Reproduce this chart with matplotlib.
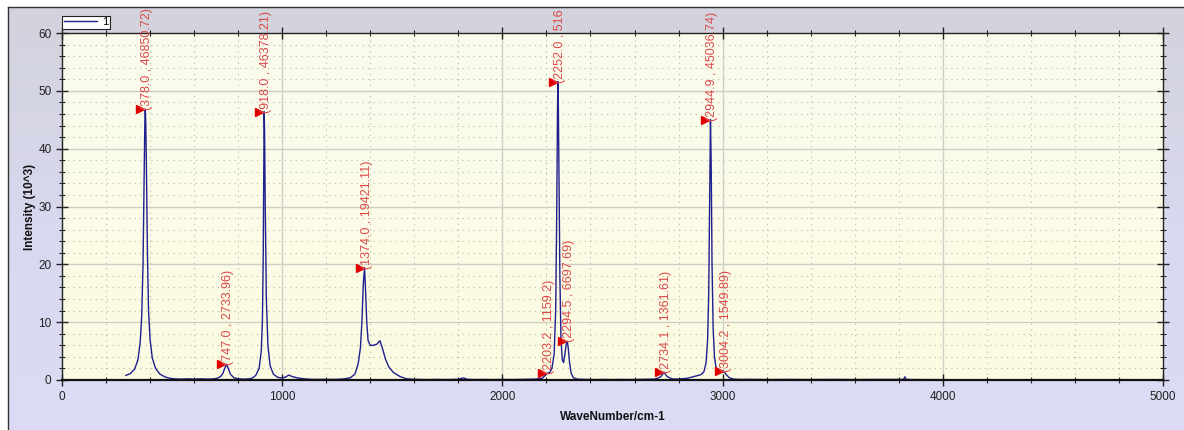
import numpy as np
import matplotlib
matplotlib.use("Agg")
import matplotlib.pyplot as plt
from matplotlib.transforms import offset_copy
from matplotlib.colors import LinearSegmentedColormap

plt.rcParams['font.family'] = ['Liberation Sans', 'DejaVu Sans']

# ---- spectrum data (WaveNumber cm-1, Intensity x10^3) ----
wavenumber = [
    290, 310, 330, 345, 355, 362, 368, 373, 376, 378, 380, 383, 388, 393, 400, 410, 425, 445, 470,
    490, 510, 540, 570, 600, 630, 660, 690,
    705, 720, 730, 738, 747, 755, 765, 780,
    800, 830, 850, 865, 880, 895, 905, 910, 914, 917, 918, 920, 923, 928, 935, 945, 960, 980,
    1000, 1015, 1030, 1045, 1070, 1100, 1130, 1160, 1190, 1220, 1250, 1280,
    1310, 1330, 1345, 1355, 1362, 1368, 1374, 1379, 1384, 1390, 1400, 1415, 1430, 1444, 1455,
    1470, 1485, 1505, 1535, 1565,
    1600, 1650, 1700, 1750, 1800, 1815, 1825, 1840, 1880, 1920, 1960, 2000, 2040, 2080, 2120,
    2150, 2180, 2195, 2203.2, 2215, 2225, 2235, 2242, 2247, 2250, 2252, 2254, 2257, 2261, 2266,
    2272, 2278, 2284, 2290, 2294.5, 2299, 2305, 2312, 2322,
    2340, 2380, 2420, 2460, 2500, 2540, 2580, 2620, 2660, 2690,
    2705, 2720, 2734.1, 2748, 2770, 2790, 2810,
    2840, 2860, 2880, 2900, 2915, 2925, 2932, 2937, 2941, 2944.9, 2948, 2952, 2957, 2963, 2970,
    2980, 2992, 3004.2, 3015, 3030, 3050,
    3080, 3120, 3200, 3300, 3400, 3500, 3600, 3700, 3800, 3822, 3828, 3834, 3860, 3950, 4050, 4105,
]
intensity = [
    0.8, 1.1, 1.9, 3.5, 6.5, 11.0, 20.0, 35.0, 44.0, 46.85, 45.0, 38.0, 22.0, 12.0, 7.0, 3.8, 2.0, 1.0, 0.5,
    0.3, 0.2, 0.15, 0.2, 0.15, 0.2, 0.15, 0.2,
    0.3, 0.6, 1.1, 1.9, 2.73, 2.0, 1.0, 0.4,
    0.2, 0.15, 0.2, 0.35, 0.8, 2.0, 5.0, 10.0, 22.0, 42.0, 46.38, 43.0, 30.0, 14.0, 6.0, 2.5, 1.0, 0.45,
    0.35, 0.5, 0.85, 0.6, 0.35, 0.2, 0.12, 0.1, 0.12, 0.1, 0.12, 0.18,
    0.4, 1.0, 2.8, 5.5, 10.0, 16.5, 19.42, 15.0, 10.0, 6.8, 6.0, 6.0, 6.2, 6.8, 5.5,
    3.5, 2.2, 1.3, 0.6, 0.2,
    0.12, 0.08, 0.1, 0.08, 0.12, 0.3, 0.35, 0.12, 0.08, 0.1, 0.08, 0.1, 0.08, 0.1, 0.12,
    0.15, 0.3, 0.8, 1.16, 1.3, 2.0, 4.5, 12.0, 30.0, 46.0, 51.6, 48.0, 35.0, 18.0, 7.0,
    3.5, 3.0, 4.5, 6.3, 6.7, 5.5, 3.0, 1.2, 0.4,
    0.15, 0.1, 0.08, 0.1, 0.08, 0.1, 0.08, 0.1, 0.12, 0.15,
    0.3, 0.6, 1.36, 0.6, 0.2, 0.15, 0.2,
    0.3, 0.5, 0.7, 0.9, 1.4, 3.0, 7.0, 15.0, 30.0, 45.04, 38.0, 20.0, 9.0, 4.0, 2.2,
    1.4, 1.3, 1.55, 1.0, 0.4, 0.15,
    0.1, 0.12, 0.08, 0.1, 0.08, 0.1, 0.08, 0.1, 0.1, 0.12, 0.55, 0.1, 0.08, 0.06, 0.05, 0.05,
]

peak_x = [378.0, 747.0, 918.0, 1374.0, 2203.2, 2252.0, 2294.5, 2734.1, 2944.9, 3004.2]
peak_y = [46.85, 2.734, 46.378, 19.421, 1.159, 51.6, 6.698, 1.362, 45.037, 1.550]
peak_labels = ["(378.0 , 46850.72)", "(747.0 , 2733.96)", "(918.0 , 46378.21)",
               "(1374.0 , 19421.11)", "(2203.2 , 1159.2)", "(2252.0 , 516",
               "(2294.5 , 6697.69)", "(2734.1 , 1361.61)", "(2944.9 , 45036.74)",
               "(3004.2 , 1549.89)"]

x_ticks = [0, 1000, 2000, 3000, 4000, 5000]
y_ticks = [0, 10, 20, 30, 40, 50, 60]

W, H = 1184, 430
fig = plt.figure(figsize=(W / 100, H / 100), dpi=100)
fig.patch.set_facecolor('white')

# background panel with gradient
bg = fig.add_axes([8 / W, 0, 1 - 8 / W, 1 - 7 / H], zorder=-10)
cmap_bg = LinearSegmentedColormap.from_list('bg', ['#dcdcf6', '#d8d8ee', '#d2d3dc'])
bg.imshow(np.linspace(0, 1, 256).reshape(-1, 1), aspect='auto', cmap=cmap_bg,
          origin='lower', extent=(0, 1, 0, 1))
bg.set_xlim(0, 1); bg.set_ylim(0, 1)
bg.set_xticks([]); bg.set_yticks([])
for s in ['right', 'bottom']:
    bg.spines[s].set_visible(False)
for s in ['left', 'top']:
    bg.spines[s].set_color('#333333')
    bg.spines[s].set_linewidth(1.0)

left, right, top, bottom = 62, 1163, 33, 380
ax = fig.add_axes([left / W, 1 - bottom / H, (right - left) / W, (bottom - top) / H])
ax.set_xlim(0, 5000)
ax.set_ylim(0, 60)

cmap_ax = LinearSegmentedColormap.from_list('axbg', ['#fbfbe2', '#fcfcee'])
ax.imshow(np.linspace(0, 1, 256).reshape(-1, 1), aspect='auto', cmap=cmap_ax,
          origin='lower', extent=(0, 5000, 0, 60), zorder=0)

# grids
for xv in range(200, 5000, 200):
    if xv % 1000:
        ax.axvline(xv, color='#b8b8a8', lw=0.8, ls=(0, (1, 4)), zorder=1)
for yv in range(2, 60, 2):
    if yv % 10:
        ax.axhline(yv, color='#b8b8a8', lw=0.8, ls=(0, (1, 4)), zorder=1)
for xv in x_ticks[1:-1]:
    ax.axvline(xv, color='#cfcfc8', lw=1.0, zorder=1)
for yv in y_ticks[1:-1]:
    ax.axhline(yv, color='#cfcfc8', lw=1.0, zorder=1)

ax.plot(wavenumber, intensity, color='#1f1f8f', lw=1.0, zorder=3, label='1')

# peak markers and labels
mtrans = offset_copy(ax.transData, fig=fig, x=-5, y=0, units='dots')
ttrans = offset_copy(ax.transData, fig=fig, x=2, y=-1, units='dots')
for px, py, lab in zip(peak_x, peak_y, peak_labels):
    ax.plot([px], [py], marker='>', color='#e00000', ms=6, mec='#e00000',
            transform=mtrans, zorder=5, clip_on=False)
    ax.text(px, py, lab, transform=ttrans, rotation=90, rotation_mode='anchor',
            ha='left', va='center', fontsize=9.0, color='#dc4848', zorder=6, clip_on=False)

ax.set_xticks(x_ticks)
ax.set_yticks(y_ticks)
ax.set_xticks(range(0, 5001, 200), minor=True)
ax.set_yticks(range(0, 61, 2), minor=True)
ax.tick_params(axis='both', which='major', direction='inout', length=8, width=1.0,
               labelsize=8.5, labelcolor='#222222', color='#222222')
ax.tick_params(axis='both', which='minor', direction='inout', length=5, width=0.8, color='#222222')
ax.tick_params(axis='x', top=True, which='both')
ax.tick_params(axis='y', right=True, which='both')
ax.tick_params(axis='x', which='major', pad=4)
for s in ['left', 'top', 'right']:
    ax.spines[s].set_color('#222222'); ax.spines[s].set_linewidth(1.0)
ax.spines['bottom'].set_color('#111111'); ax.spines['bottom'].set_linewidth(1.6)
for s in ax.spines.values():
    s.set_zorder(4)

ax.set_xlabel('WaveNumber/cm-1', fontsize=8.5, fontweight='bold', color='#111111', labelpad=6)
ax.set_ylabel('Intensity (10^3)', fontsize=8.5, fontweight='bold', color='#111111', labelpad=2)

leg = ax.legend(loc='lower left', bbox_to_anchor=(0.0, 1.012), fontsize=8,
                frameon=True, fancybox=False, edgecolor='#222222', framealpha=1,
                borderpad=0.15, handlelength=3.0, handletextpad=0.5, borderaxespad=0)
leg.get_frame().set_linewidth(0.8)

fig.savefig('out.png', dpi=100)
